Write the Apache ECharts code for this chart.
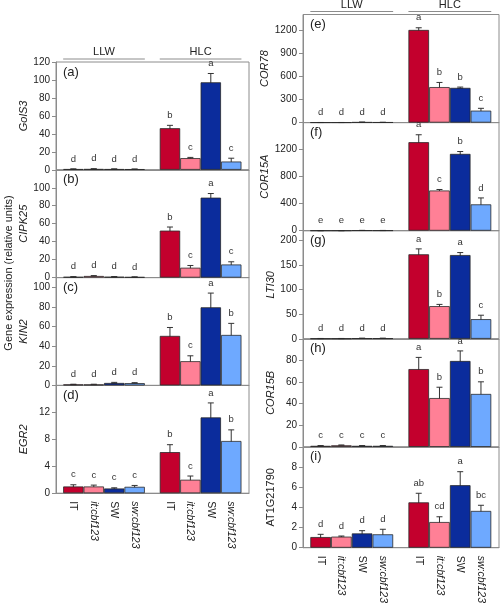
<!DOCTYPE html>
<html><head><meta charset="utf-8">
<script src="https://cdn.jsdelivr.net/npm/echarts@6/dist/echarts.min.js"></script>
<style>html,body{margin:0;padding:0;background:#fff}#c{width:502px;height:606px}</style>
</head><body><div id="c"></div>
<script>
// ---------------- data ----------------
const genotypes = ['IT', 'it:cbf123', 'SW', 'sw:cbf123'];
const conditions = ['LLW', 'HLC'];
const panelTags = ['(a)', '(b)', '(c)', '(d)', '(e)', '(f)', '(g)', '(h)', '(i)'];
const geneNames = ['GolS3', 'CIPK25', 'KIN2', 'EGR2', 'COR78', 'COR15A', 'LTI30', 'COR15B', 'AT1G21790'];
const yAxisTitle = 'Gene expression (relative units)';

// order: LLW IT, it:cbf123, SW, sw:cbf123, HLC IT, it:cbf123, SW, sw:cbf123
const golS3Mean = [0.8, 0.9, 0.8, 0.7, 46.3, 13, 97.4, 9.2];
const golS3Err = [0.2, 0.3, 0.2, 0.2, 3.2, 0.8, 9.8, 3.7];
const golS3Letters = ['d', 'd', 'd', 'd', 'b', 'c', 'a', 'c'];

const cipk25Mean = [0.8, 1.8, 0.9, 0.6, 52.3, 11, 89, 14.6];
const cipk25Err = [0.2, 0.4, 0.2, 0.2, 4, 2.5, 4.6, 3];
const cipk25Letters = ['d', 'd', 'd', 'd', 'b', 'c', 'a', 'c'];

const kin2Mean = [1, 1, 2.5, 2.3, 50.5, 24.7, 79.7, 51.5];
const kin2Err = [0.2, 0.2, 0.6, 0.5, 8.6, 5.5, 14.5, 11.8];
const kin2Letters = ['d', 'd', 'd', 'd', 'b', 'c', 'a', 'b'];

const egr2Mean = [1.0, 1.0, 0.7, 0.95, 6.1, 2.0, 11.25, 7.75];
const egr2Err = [0.25, 0.2, 0.1, 0.2, 1.1, 0.55, 2.15, 1.65];
const egr2Letters = ['c', 'c', 'c', 'c', 'b', 'c', 'a', 'b'];

const cor78Mean = [1, 1, 5, 3, 1200, 460, 450, 155];
const cor78Err = [0.5, 0.5, 1, 1, 28, 60, 10, 30];
const cor78Letters = ['d', 'd', 'd', 'd', 'a', 'b', 'b', 'c'];

const cor15aMean = [1, 1, 4, 3, 1310, 595, 1137, 390];
const cor15aErr = [0.5, 0.5, 1, 1, 110, 15, 35, 95];
const cor15aLetters = ['e', 'e', 'e', 'e', 'a', 'c', 'b', 'd'];

const lti30Mean = [0.5, 0.5, 1, 1, 172, 66.5, 170.5, 40];
const lti30Err = [0.2, 0.2, 0.3, 0.3, 11, 3.5, 5, 8];
const lti30Letters = ['d', 'd', 'd', 'd', 'a', 'b', 'a', 'c'];

const cor15bMean = [1, 1.5, 1, 1, 72, 45.2, 79.5, 49];
const cor15bErr = [0.2, 0.3, 0.2, 0.2, 10.8, 10, 9.3, 11.2];
const cor15bLetters = ['c', 'c', 'c', 'c', 'a', 'b', 'a', 'b'];

const at1gMean = [1.06, 1.1, 1.42, 1.33, 4.5, 2.55, 6.2, 3.65];
const at1gErr = [0.27, 0.06, 0.27, 0.5, 0.9, 0.52, 1.34, 0.56];
const at1gLetters = ['d', 'd', 'd', 'd', 'ab', 'cd', 'a', 'bc'];

// ---------------- styles / layout ----------------
const colors = ['#C3002D', '#FF8096', '#0B2C9C', '#6EA9FF'];
const FONT = '"Liberation Sans", Arial, sans-serif';
const AXIS_COLOR = '#8c8c8c';
const GAP = 0.73;           // extra space between LLW and HLC groups (in bar units)
const X_MIN = -0.85, X_MAX = 8.6;
const pos = i => i + (i >= 4 ? GAP : 0);

const panels = [
  {mean: golS3Mean, err: golS3Err, letters: golS3Letters, max: 120, interval: 20, showMax: true},
  {mean: cipk25Mean, err: cipk25Err, letters: cipk25Letters, max: 120, interval: 20},
  {mean: kin2Mean, err: kin2Err, letters: kin2Letters, max: 110, interval: 20},
  {mean: egr2Mean, err: egr2Err, letters: egr2Letters, max: 16, interval: 4},
  {mean: cor78Mean, err: cor78Err, letters: cor78Letters, max: 1400, interval: 300},
  {mean: cor15aMean, err: cor15aErr, letters: cor15aLetters, max: 1600, interval: 400},
  {mean: lti30Mean, err: lti30Err, letters: lti30Letters, max: 220, interval: 50},
  {mean: cor15bMean, err: cor15bErr, letters: cor15bLetters, max: 100, interval: 20},
  {mean: at1gMean, err: at1gErr, letters: at1gLetters, max: 10, interval: 2},
];

const colLayout = [
  {left: 56, width: 193, top: 62, h: 107.8, count: 4, barW: 20.4},
  {left: 303, width: 196, top: 14.5, h: 108.1, count: 5, barW: 20.6},
];

const grids = [], xAxes = [], yAxes = [], series = [];
const gridInfo = [];
panels.forEach((p, k) => {
  const col = k < 4 ? 0 : 1;
  const row = col === 0 ? k : k - 4;
  const L = colLayout[col];
  const top = L.top + row * L.h;
  const isBottom = row === L.count - 1;
  gridInfo.push({col, row, top, left: L.left, width: L.width, isBottom});
  grids.push({left: L.left, top: top, width: L.width, height: L.h, show: true,
    borderColor: AXIS_COLOR, borderWidth: 1, backgroundColor: 'transparent', containLabel: false});
  const positions = p.mean.map((_, i) => pos(i));
  xAxes.push({type: 'value', gridIndex: k, min: X_MIN, max: X_MAX,
    splitLine: {show: false},
    axisLine: {show: true, onZero: false, lineStyle: {color: AXIS_COLOR}},
    axisTick: {show: false},
    axisLabel: {show: isBottom, customValues: positions, rotate: -90, margin: 8,
      formatter: v => {
        let idx = positions.findIndex(q => Math.abs(q - v) < 1e-6);
        if (idx < 0) return '';
        const g = idx % 4;
        return (g % 2 === 1 ? '{it|' : '{n|') + genotypes[g] + '}';
      },
      rich: {
        n: {fontFamily: FONT, fontSize: 10.5, color: '#222'},
        it: {fontFamily: FONT, fontSize: 10.5, color: '#222', fontStyle: 'italic'}
      }
    }
  });
  const italicName = geneNames[k] !== 'AT1G21790';
  yAxes.push({type: 'value', gridIndex: k, min: 0, max: p.max, interval: p.interval,
    name: geneNames[k], nameLocation: 'middle', nameGap: 27,
    nameTextStyle: {fontFamily: FONT, fontSize: 11, color: '#222', fontStyle: italicName ? 'italic' : 'normal'},
    splitLine: {show: false},
    axisLine: {show: true, onZero: false, lineStyle: {color: AXIS_COLOR}},
    axisTick: {show: true, length: 4, lineStyle: {color: AXIS_COLOR}},
    axisLabel: {fontFamily: FONT, fontSize: 10, color: '#222', margin: 6,
      formatter: v => String(v),
      showMaxLabel: !!p.showMax, showMinLabel: true}
  });
  series.push({type: 'bar', xAxisIndex: k, yAxisIndex: k,
    barWidth: L.barW,
    data: p.mean.map((v, i) => ({value: [pos(i), v],
      itemStyle: {color: colors[i % 4], borderColor: '#2a2a2a', borderWidth: 0.8}})),
    silent: true, animation: false});
  series.push({type: 'custom', xAxisIndex: k, yAxisIndex: k, clip: false, silent: true, animation: false,
    data: p.mean.map((v, i) => [pos(i), v, p.err[i]]),
    renderItem: (params, api) => {
      const x = api.value(0), v = api.value(1), e = api.value(2);
      const pt = api.coord([x, v + e]);
      const pb = api.coord([x, v - e]);
      const cap = 3;
      const children = [
        {type: 'line', shape: {x1: pt[0], y1: pt[1], x2: pb[0], y2: pb[1]}, style: {stroke: '#333', lineWidth: 1}},
        {type: 'line', shape: {x1: pt[0] - cap, y1: pt[1], x2: pt[0] + cap, y2: pt[1]}, style: {stroke: '#333', lineWidth: 1}},
        {type: 'line', shape: {x1: pb[0] - cap, y1: pb[1], x2: pb[0] + cap, y2: pb[1]}, style: {stroke: '#333', lineWidth: 1}},
        {type: 'text', x: pt[0], y: pt[1] - 10,
          style: {text: p.letters[params.dataIndex], fontFamily: FONT, fontSize: 9.5, fill: '#333',
            align: 'center', verticalAlign: 'middle'}}
      ];
      return {type: 'group', children};
    }
  });
});

const chart = echarts.init(document.getElementById('c'), null, {renderer: 'canvas'});
chart.setOption({
  animation: false,
  backgroundColor: '#fff',
  grid: grids, xAxis: xAxes, yAxis: yAxes, series: series
});

// header labels (LLW / HLC) and panel tags, placed through the axes' own scales
const graphics = [];
[0, 4].forEach(k => {
  const gi = gridInfo[k];
  const bw = colLayout[gi.col].barW;
  conditions.forEach((c, ci) => {
    const x1 = chart.convertToPixel({xAxisIndex: k}, pos(ci * 4)) - bw / 2;
    const x2 = chart.convertToPixel({xAxisIndex: k}, pos(ci * 4 + 3)) + bw / 2;
    const yl = gi.top - 3;
    graphics.push({type: 'line', shape: {x1, y1: yl, x2, y2: yl}, style: {stroke: AXIS_COLOR, lineWidth: 1}});
    graphics.push({type: 'text', x: (x1 + x2) / 2, y: gi.top - 10,
      style: {text: c, fontFamily: FONT, fontSize: 11, fill: '#222', align: 'center', verticalAlign: 'middle'}});
  });
});
gridInfo.forEach((gi, k) => {
  graphics.push({type: 'text', x: gi.left + 7, y: gi.top + 10,
    style: {text: panelTags[k], fontFamily: FONT, fontSize: 13, fill: '#222', align: 'left', verticalAlign: 'middle'}});
});
graphics.push({type: 'text', x: 9, y: 273, rotation: Math.PI / 2,
  style: {text: yAxisTitle, fontFamily: FONT, fontSize: 11, fill: '#222', align: 'center', verticalAlign: 'middle'}});
chart.setOption({graphic: graphics});
</script>
</body></html>
